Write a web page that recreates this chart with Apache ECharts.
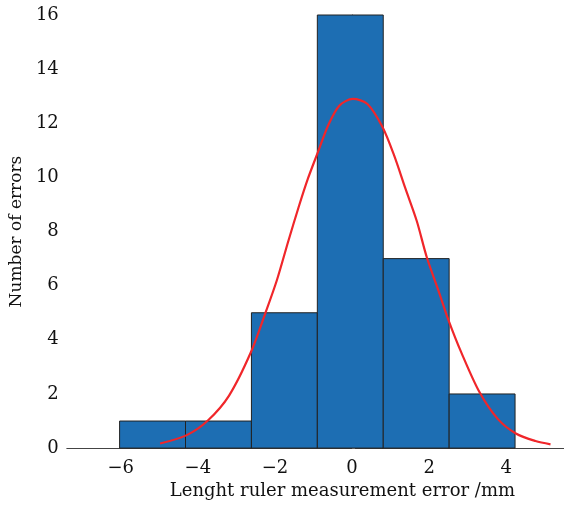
<!DOCTYPE html>
<html>
<head>
<meta charset="utf-8">
<script src="https://cdn.jsdelivr.net/npm/echarts@6/dist/echarts.min.js"></script>
<style>html,body{margin:0;padding:0;background:#fff}#c{width:564px;height:505px}</style>
</head>
<body>
<div id="c"></div>
<script>
// Histogram bin edges (mm) and counts
const binEdges = [-6.03, -4.32, -2.61, -0.90, 0.81, 2.52, 4.23];
const counts = [1, 1, 5, 16, 7, 2];
// Fitted curve points
const curveX = [-4.98, -4.30, -3.74, -3.19, -2.63, -2.25, -1.95, -1.65, -1.39, -1.14, -0.88, -0.62, -0.33, 0.02,
                0.40, 0.79, 1.09, 1.38, 1.68, 1.94, 2.24, 2.50, 2.84, 3.31, 3.78, 4.25, 4.76, 5.15];
const curveY = [0.17, 0.47, 1.02, 1.94, 3.52, 4.98, 6.20, 7.66, 8.88, 9.97, 10.95, 11.92, 12.65, 12.90,
                12.71, 11.86, 10.82, 9.61, 8.39, 7.05, 5.83, 4.74, 3.52, 2.06, 1.08, 0.54, 0.26, 0.14];
const xTicks = [-6, -4, -2, 0, 2, 4];
const yTicks = [0, 2, 4, 6, 8, 10, 12, 14, 16];

const barData = counts.map((c, i) => [binEdges[i], binEdges[i + 1], c]);
const lineData = curveX.map((x, i) => [x, curveY[i]]);

const font = 'DejaVu Serif';
const chart = echarts.init(document.getElementById('c'), null, {renderer: 'canvas'});
chart.setOption({
  animation: false,
  backgroundColor: '#fff',
  grid: {left: 62, right: 0, top: 15, bottom: 52},
  xAxis: {
    type: 'value', min: -7.4, max: 5.5,
    name: 'Lenght ruler measurement error /mm',
    nameLocation: 'middle', nameGap: 30,
    nameTextStyle: {fontFamily: font, fontSize: 18, color: '#111', padding: [0, 0, 0, 54]},
    axisLine: {show: true, lineStyle: {color: '#444', width: 1}},
    axisTick: {show: true, inside: true, length: 4, customValues: xTicks, lineStyle: {color: '#444'}},
    axisLabel: {customValues: xTicks, margin: 11, fontFamily: font, fontSize: 18, color: '#111',
      formatter: v => String(v).replace('-', '\u2212')},
    splitLine: {show: false}
  },
  yAxis: {
    type: 'value', min: 0, max: 16, interval: 2,
    name: 'Number of errors',
    nameLocation: 'middle', nameGap: 36, nameRotate: 90,
    nameTextStyle: {fontFamily: font, fontSize: 17, color: '#111'},
    axisLine: {show: true, lineStyle: {color: '#444', width: 1}},
    axisTick: {show: true, inside: true, length: 3, customValues: yTicks, lineStyle: {color: '#aaa'}},
    axisLabel: {margin: 8, fontFamily: font, fontSize: 18, color: '#111'},
    splitLine: {show: false}
  },
  series: [
    {
      type: 'custom',
      data: barData,
      encode: {x: [0, 1], y: 2},
      renderItem: function (params, api) {
        const p0 = api.coord([api.value(0), api.value(2)]);
        const p1 = api.coord([api.value(1), 0]);
        return {
          type: 'rect',
          shape: {x: p0[0], y: p0[1], width: p1[0] - p0[0], height: p1[1] - p0[1]},
          style: {fill: '#1d6eb3', stroke: '#222', lineWidth: 1}
        };
      },
      z: 2
    },
    {
      type: 'line',
      data: lineData,
      smooth: 0.3,
      showSymbol: false,
      lineStyle: {color: '#f0262a', width: 2.2},
      z: 5
    }
  ]
});
</script>
</body>
</html>
